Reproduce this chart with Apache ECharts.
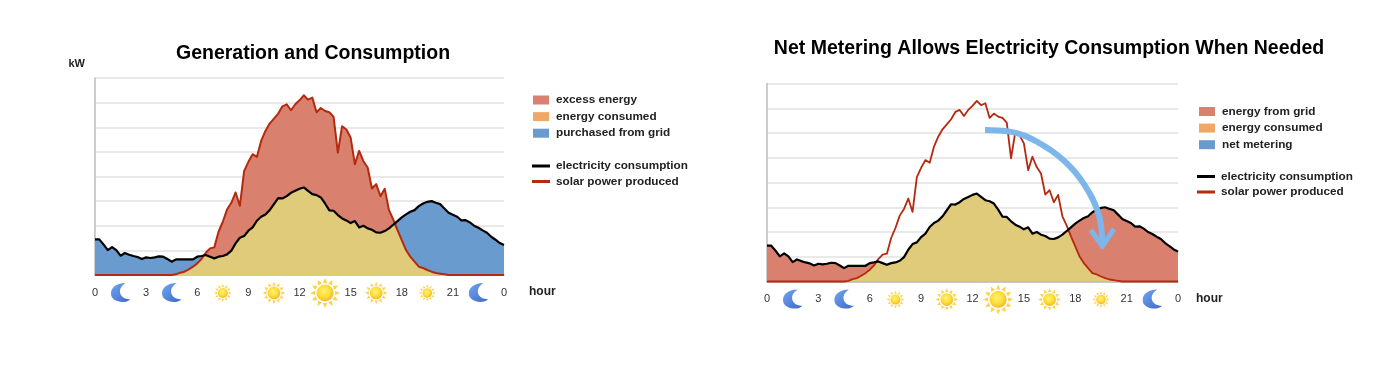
<!DOCTYPE html>
<html>
<head>
<meta charset="utf-8">
<style>html,body{margin:0;padding:0;background:#fff}#chart{width:1400px;height:369px}</style>
<script src="https://cdn.jsdelivr.net/npm/echarts@6/dist/echarts.min.js"></script>
</head>
<body>
<div id="chart"></div>
<script>
// quarter-hour readings, 00:00 to 24:00, in chart units (one gridline = 74)
const consumption = [
  107,107,92,75, 84,75,58,66, 61,57,54,48, 53,51,53,56, 55,48,40,47, 47,47,47,47,
  55,57,60,55, 50,55,57,62, 73,95,112,117, 133,143,163,175, 182,195,213,231, 230,237,247,253,
  259,263,253,243, 240,233,215,194, 193,180,170,164, 156,162,143,148, 140,136,128,127, 132,140,151,162,
  173,182,190,195, 207,215,220,222, 217,213,200,187, 181,175,164,165, 158,148,142,134, 127,115,106,96, 90
];
const solar = [
  0,0,0,0, 0,0,0,0, 0,0,0,0, 0,0,0,0, 0,0,0,2, 7,10,17,25,
  35,48,67,80, 83,130,160,197, 217,248,208,312, 340,363,355,403, 433,455,470,485, 507,513,495,513,
  525,540,527,533, 489,502,493,489, 475,368,447,437, 413,333,373,342, 323,260,273,237, 259,195,167,135,
  105,75,55,40, 25,21,15,10, 6,4,2,0, 0,0,0,0, 0,0,0,0, 0,0,0,0, 0
];
const legendLeft = ["excess energy", "energy consumed", "purchased from grid"];
const legendRight = ["energy from grid", "energy consumed", "net metering"];
const legendLines = ["electricity consumption", "solar power produced"];
const moonHours = [1.5, 4.5, 22.5];
const sunHours = [7.5, 10.5, 13.5, 16.5, 19.5];
const sunSizes = [19, 24, 32, 24, 18];
const arrowHours = [12.73, 14.19, 15.75, 17.3, 18.47, 19.35, 19.58];
const arrowValues = [453, 448, 418, 363, 294, 204, 114];
const headHours = [18.91, 19.58, 20.26];
const headValues = [154, 105, 157];

const RED = "#d9806f", TAN = "#e0cb7a", BLUE = "#6a9bce", ORANGE = "#f0a868";
const LINE_RED = "#b5290f", ARROW = "#7db6ea";
const FONT = "Liberation Sans";

const pairs = (vals) => vals.map((v, i) => [i * 0.25, v]);

// lower of the two curves, with the crossings added so the fill meets them exactly
function lowerEnvelope(a, b) {
  const out = [];
  a.forEach((v, i) => {
    if (i > 0 && (a[i - 1] - b[i - 1]) * (v - b[i]) < 0) {
      const d0 = a[i - 1] - b[i - 1], d1 = v - b[i];
      const t = d0 / (d0 - d1);
      out.push([(i - 1 + t) * 0.25, a[i - 1] + (v - a[i - 1]) * t]);
    }
    out.push([i * 0.25, Math.min(v, b[i])]);
  });
  return out;
}

function svgIcon(body) {
  const svg = '<svg xmlns="http://www.w3.org/2000/svg" width="64" height="64" viewBox="0 0 64 64">' + body + "</svg>";
  return "image://data:image/svg+xml," + encodeURIComponent(svg);
}

function sunIcon() {
  let rays = "";
  for (let i = 0; i < 12; i++) {
    rays += '<path d="M27.5 12 L32 2 L36.5 12 Z" fill="#fcc81e" transform="rotate(' + i * 30 + ' 32 32)"/>';
  }
  return svgIcon(
    '<defs><radialGradient id="s" cx="45%" cy="40%" r="60%"><stop offset="0" stop-color="#fff05a"/>' +
    '<stop offset="0.6" stop-color="#ffd400"/><stop offset="1" stop-color="#f0a400"/></radialGradient></defs>' +
    rays + '<circle cx="32" cy="32" r="17" fill="url(#s)"/>'
  );
}

function moonIcon() {
  return svgIcon(
    '<defs><linearGradient id="m" x1="0" y1="0" x2="1" y2="1"><stop offset="0" stop-color="#4f90ee"/>' +
    '<stop offset="1" stop-color="#0f44b8"/></linearGradient></defs>' +
    '<path d="M48 2 C20 2 1 16 1 36 C1 52 18 63 38 63 C50 63 58 60 63 54 C46 54 31 46 30 30 C30 18 38 8 48 2 Z" fill="url(#m)"/>'
  );
}

function makeAxes(gridIndex, showUnit, hourGap) {
  const xAxis = {
    gridIndex, type: "value", min: 0, max: 24, interval: 3,
    axisLine: { onZero: false, lineStyle: { color: "#bdbdbd", width: 1.5 } },
    axisTick: { show: false },
    splitLine: { show: false },
    axisLabel: {
      color: "#333", fontSize: 11, fontFamily: FONT, margin: 12, showMinLabel: true, showMaxLabel: true,
      formatter: (h) => String(h % 24)
    },
    name: "hour", nameLocation: "end", nameGap: hourGap,
    nameTextStyle: { color: "#222", fontSize: 12, fontWeight: "bold", fontFamily: FONT, verticalAlign: "top", padding: [11, 0, 0, 0] }
  };
  const yAxis = {
    gridIndex, type: "value", min: 0, max: 592, interval: 74,
    axisLine: { show: true, lineStyle: { color: "#bdbdbd", width: 1.5 } },
    axisTick: { show: false },
    axisLabel: { show: false },
    splitLine: { lineStyle: { color: "#e2e2e2", width: 1.5 } }
  };
  if (showUnit) {
    yAxis.name = "kW";
    yAxis.nameLocation = "end";
    yAxis.nameGap = 9;
    yAxis.nameTextStyle = { color: "#222", fontSize: 11, fontWeight: "bold", fontFamily: FONT, align: "right", padding: [0, 10, 0, 0] };
  }
  return { xAxis, yAxis };
}

function area(name, gridIndex, data, color, z) {
  return {
    name, type: "line", xAxisIndex: gridIndex, yAxisIndex: gridIndex, data, z,
    showSymbol: false, symbol: "none", silent: true,
    lineStyle: { width: 0 }, areaStyle: { color, opacity: 1 }, itemStyle: { color }
  };
}

function curve(name, gridIndex, data, color, width, z) {
  return {
    name, type: "line", xAxisIndex: gridIndex, yAxisIndex: gridIndex, data, z,
    showSymbol: false, symbol: "none", clip: false, silent: true,
    lineStyle: { color, width, join: "round" }, itemStyle: { color }
  };
}

function iconSeries(gridIndex) {
  const moons = moonHours.map((h) => ({ value: [h, -52], symbol: moonIcon(), symbolSize: 20 }));
  const suns = sunHours.map((h, i) => ({ value: [h, -54], symbol: sunIcon(), symbolSize: sunSizes[i] }));
  return {
    type: "scatter", xAxisIndex: gridIndex, yAxisIndex: gridIndex, clip: false, silent: true, z: 6,
    data: moons.concat(suns)
  };
}

function swatchLegend(names, colors, left, top) {
  return {
    left, top, orient: "vertical", selectedMode: false, icon: "rect",
    itemWidth: 16, itemHeight: 9, itemGap: 4.6,
    textStyle: { color: "#222", fontSize: 11.75, fontWeight: "bold", fontFamily: FONT, padding: [0, 0, 0, 2] },
    data: names.map((name, i) => ({ name, itemStyle: { color: colors[i] } }))
  };
}

function lineLegend(left, top) {
  const colors = ["#000000", LINE_RED];
  return {
    left, top, orient: "vertical", selectedMode: false, icon: "rect",
    itemWidth: 18, itemHeight: 3, itemGap: 3.5,
    textStyle: { color: "#222", fontSize: 11.75, fontWeight: "bold", fontFamily: FONT, padding: [0, 0, 0, 1] },
    data: legendLines.map((name, i) => ({ name, itemStyle: { color: colors[i] } }))
  };
}

const leftAxes = makeAxes(0, true, 25);
const rightAxes = makeAxes(1, false, 18);
const lower = lowerEnvelope(consumption, solar);

const option = {
  backgroundColor: "#fff",
  animation: false,
  title: [
    { text: "Generation and Consumption", left: 308, top: 39, textAlign: "center",
      textStyle: { color: "#000", fontSize: 19.5, fontWeight: "bold", fontFamily: FONT } },
    { text: "Net Metering Allows Electricity Consumption When Needed", left: 1044, top: 34, textAlign: "center",
      textStyle: { color: "#000", fontSize: 19.5, fontWeight: "bold", fontFamily: FONT } }
  ],
  grid: [
    { left: 95, top: 78, width: 409, height: 197 },
    { left: 767, top: 83.5, width: 411, height: 198 }
  ],
  xAxis: [leftAxes.xAxis, rightAxes.xAxis],
  yAxis: [leftAxes.yAxis, rightAxes.yAxis],
  legend: [
    swatchLegend(legendLeft, [RED, ORANGE, BLUE], 528, 89),
    lineLegend(527, 155),
    swatchLegend(legendRight, [RED, ORANGE, BLUE], 1194, 100.5),
    lineLegend(1192, 165.5)
  ],
  series: [
    area("purchased from grid", 0, pairs(consumption), BLUE, 2),
    area("excess energy", 0, pairs(solar), RED, 3),
    area("energy consumed", 0, lower, TAN, 4),
    curve("solar power produced", 0, pairs(solar), LINE_RED, 2, 5),
    curve("electricity consumption", 0, pairs(consumption), "#000", 2.2, 5),
    iconSeries(0),

    area("energy from grid", 1, pairs(consumption), RED, 2),
    area("energy consumed", 1, lower, TAN, 4),
    { name: "net metering", type: "line", xAxisIndex: 1, yAxisIndex: 1, data: [], itemStyle: { color: BLUE } },
    curve("solar power produced", 1, pairs(solar), LINE_RED, 1.8, 5),
    curve("electricity consumption", 1, pairs(consumption), "#000", 2.2, 5),
    iconSeries(1),

    Object.assign(curve("", 1, arrowHours.map((h, i) => [h, arrowValues[i]]), ARROW, 6, 7), { smooth: 0.4 }),
    curve("", 1, headHours.map((h, i) => [h, headValues[i]]), ARROW, 5, 7)
  ]
};

const chart = echarts.init(document.getElementById("chart"));
chart.setOption(option);
</script>
</body>
</html>
